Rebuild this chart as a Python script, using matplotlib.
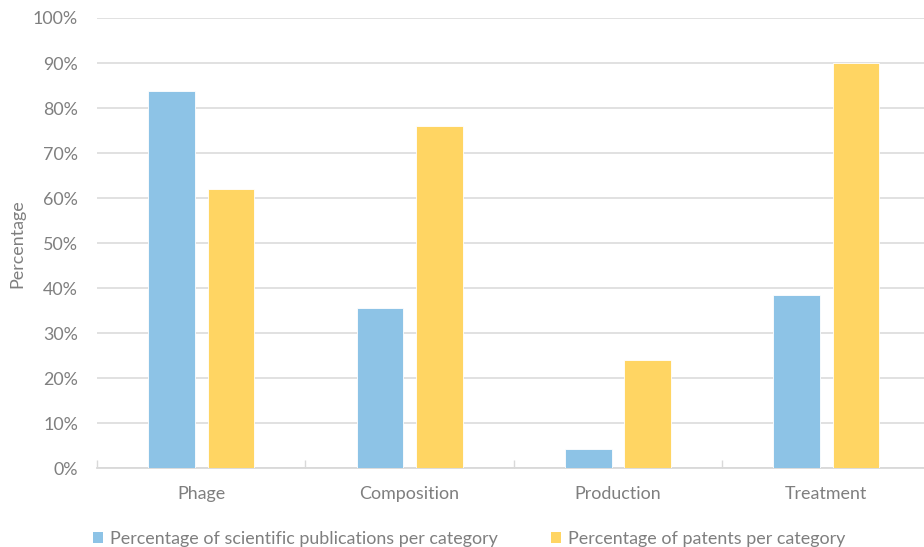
import matplotlib.pyplot as plt
import numpy as np
from matplotlib.patches import Patch
from matplotlib.ticker import PercentFormatter

categories = ["Phage", "Composition", "Production", "Treatment"]
publications = [83.7, 35.6, 4.3, 38.5]
patents = [62.0, 76.0, 24.0, 90.0]
series_labels = [
    "Percentage of scientific publications per category",
    "Percentage of patents per category",
]

BLUE = "#8DC3E6"
YELLOW = "#FFD563"
TEXT = "#7F7F7F"
GRID = "#D9D9D9"
FS = 12.9

plt.rcParams["font.family"] = ["Lato", "DejaVu Sans"]

fig = plt.figure(figsize=(9.24, 5.47), dpi=100)
# axes run a little past the right edge of the canvas
ax = fig.add_axes([97 / 924, 1 - 468.3 / 547, 833.6 / 924, 450.3 / 547])

x = np.arange(len(categories))
width = 0.224
offset = 0.1425
ax.bar(x - offset, publications, width, color=BLUE, edgecolor="white", linewidth=0.6, zorder=3)
ax.bar(x + offset, patents, width, color=YELLOW, edgecolor="white", linewidth=0.6, zorder=3)

ax.set_xlim(-0.5, len(categories) - 0.5)
ax.set_ylim(0, 100)
ax.set_yticks(np.arange(0, 101, 10))
ax.yaxis.set_major_formatter(PercentFormatter(decimals=0))
ax.grid(axis="y", color=GRID, linewidth=1.1, zorder=0)

ax.set_xticks(x)
ax.set_xticklabels(categories)
ax.set_xticks(np.arange(0, len(categories)) - 0.5, minor=True)
ax.tick_params(axis="x", which="major", length=0, pad=12.5, labelsize=FS, labelcolor=TEXT)
ax.tick_params(axis="x", which="minor", direction="in", length=5.5, width=1, color=GRID)
ax.tick_params(axis="y", length=0, pad=13.7, labelsize=FS, labelcolor=TEXT)

for side in ["top", "right", "left"]:
    ax.spines[side].set_visible(False)
ax.spines["bottom"].set_color(GRID)
ax.spines["bottom"].set_linewidth(1.3)

ax.set_ylabel("Percentage", fontsize=FS, color=TEXT)
ax.yaxis.set_label_coords(-(97 - 25) / 833.6, 0.5)

handles = [Patch(facecolor=BLUE), Patch(facecolor=YELLOW)]
fig.legend(
    handles, series_labels,
    loc="center left", bbox_to_anchor=(93 / 924, 1 - 539 / 547),
    ncol=2, frameon=False, fontsize=FS, labelcolor=TEXT,
    borderpad=0, borderaxespad=0,
    handlelength=0.56, handleheight=0.56, handletextpad=0.4, columnspacing=2.96,
)

fig.savefig("out.png", dpi=100)
